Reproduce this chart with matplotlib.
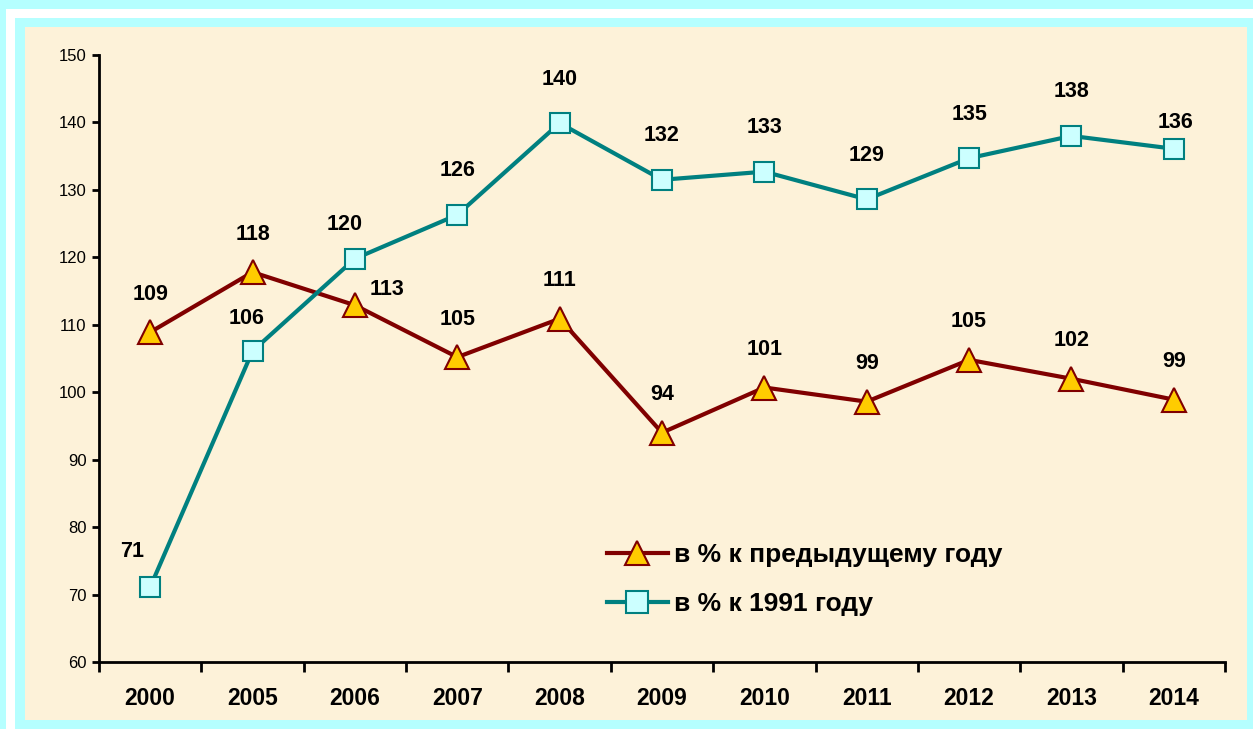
import matplotlib.pyplot as plt
from matplotlib.patches import Rectangle
from matplotlib.ticker import FixedLocator, NullFormatter

plt.rcParams['font.family'] = ['Liberation Sans', 'DejaVu Sans']

# Data
years = ['2000', '2005', '2006', '2007', '2008', '2009', '2010', '2011', '2012', '2013', '2014']
prev_year = [108.9, 117.8, 112.9, 105.2, 110.9, 94.0, 100.7, 98.6, 104.8, 102.0, 98.9]
vs_1991 = [71.1, 106.1, 119.8, 126.3, 139.9, 131.5, 132.7, 128.6, 134.7, 138.0, 136.1]
series_names = ['в % к предыдущему году', 'в % к 1991 году']

W, H = 1253, 729
fig = plt.figure(figsize=(W / 100, H / 100), dpi=100)
fig.patch.set_facecolor('#B5FFFF')

# white frame and cream panel behind the chart
fig.patches.append(Rectangle((6 / W, 0), 9 / W, 1 - 9 / H, transform=fig.transFigure,
                             facecolor='white', edgecolor='none', zorder=-10))
fig.patches.append(Rectangle((6 / W, 1 - 18 / H), 1 - 6 / W, 9 / H, transform=fig.transFigure,
                             facecolor='white', edgecolor='none', zorder=-10))
fig.patches.append(Rectangle((25 / W, 1 - 720 / H), 1222 / W, 693 / H, transform=fig.transFigure,
                             facecolor='#FDF2D9', edgecolor='none', zorder=-10))

ax = fig.add_axes([99 / W, 1 - 662 / H, 1126 / W, 607 / H])
ax.set_facecolor('none')

x = list(range(len(years)))
ax.plot(x, prev_year, color='#800000', lw=3, marker='^', ms=17,
        mfc='#FFCC00', mec='#800000', mew=1.5, label=series_names[0], zorder=3)
ax.plot(x, vs_1991, color='#008080', lw=3, marker='s', ms=15,
        mfc='#CCFFFF', mec='#008080', mew=1.5, label=series_names[1], zorder=3)

# value labels
red_off = {2: (32, 16)}
teal_off = {0: (-18, 36), 1: (-6, 33), 2: (-10, 34), 10: (2, 26)}
for i, v in enumerate(prev_year):
    dx, dy = red_off.get(i, (0, 38))
    ax.annotate(f'{v:.0f}', (i, v), xytext=(dx, dy), textcoords='offset pixels',
                ha='center', va='center', fontsize=15.5, fontweight='bold')
for i, v in enumerate(vs_1991):
    dx, dy = teal_off.get(i, (0, 44))
    ax.annotate(f'{v:.0f}', (i, v), xytext=(dx, dy), textcoords='offset pixels',
                ha='center', va='center', fontsize=15.5, fontweight='bold')

ax.set_xlim(-0.5, len(years) - 0.5)
ax.set_ylim(60, 150)
ax.set_yticks(range(60, 151, 10))
ax.set_xticks(x)
ax.set_xticklabels(years, fontsize=16.5, fontweight='bold')
ax.xaxis.set_minor_locator(FixedLocator([i - 0.5 for i in range(len(years) + 1)]))
ax.xaxis.set_minor_formatter(NullFormatter())
ax.tick_params(axis='x', which='major', length=0, pad=18)
ax.tick_params(axis='x', which='minor', length=7, width=2)
ax.tick_params(axis='y', length=5, width=2, labelsize=12, pad=4)

for side in ['top', 'right']:
    ax.spines[side].set_visible(False)
for side in ['left', 'bottom']:
    ax.spines[side].set_linewidth(2)

leg = ax.legend(loc='upper left', bbox_to_anchor=(607 / W, 1 - 543 / H),
                bbox_transform=fig.transFigure, frameon=False, borderpad=0,
                borderaxespad=0, handlelength=2.3, handletextpad=0.25,
                labelspacing=0.95, markerscale=1.05,
                prop={'size': 19, 'weight': 'bold'})

fig.savefig('out.png', dpi=100, facecolor=fig.get_facecolor())
